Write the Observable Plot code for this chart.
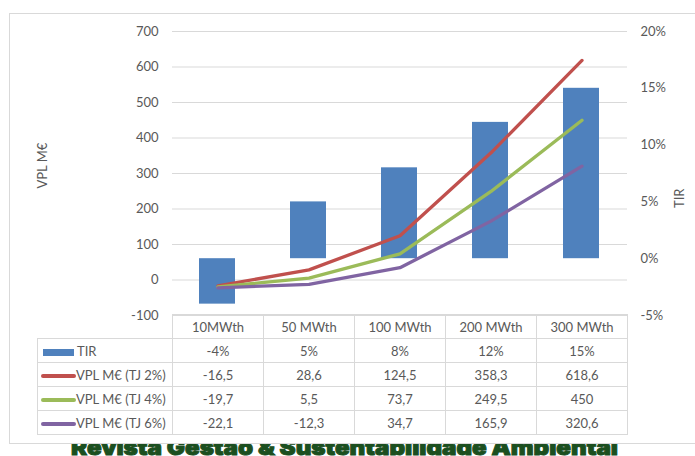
<!DOCTYPE html>
<html>
<head>
<meta charset="utf-8">
<script src="https://cdn.jsdelivr.net/npm/d3@7"></script>
<script src="https://cdn.jsdelivr.net/npm/@observablehq/plot@0.6"></script>
<style>
  html, body { margin: 0; padding: 0; background: #fff; }
  body { width: 695px; height: 456px; overflow: hidden; position: relative; font-family: Lato, "Liberation Sans", sans-serif; }
  #frame { position: absolute; left: 9px; top: 13px; width: 720px; height: 429px; border: 1px solid #d9d9d9; }
  #chart { position: absolute; left: 0; top: 0; }
  #table { position: absolute; left: 37px; top: 314px; border-collapse: collapse; font-size: 13px; color: #595959; }
  #table td { border: 1px solid #d9d9d9; height: 23px; padding: 0; text-align: center; width: 90px; }
  #table td.lab { width: 134px; text-align: left; white-space: nowrap; }
  #table td.blank { border: none; }
  .sw { display: inline-block; vertical-align: middle; margin: 0 2px 0 4px; }
  #source { position: absolute; left: 0; top: 444px; width: 695px; height: 12px; overflow: hidden; }
  #source div { position: absolute; left: 71px; top: -10px; white-space: nowrap; font-family: Inter, Roboto, "DejaVu Sans", sans-serif; font-weight: 900; font-size: 22px; line-height: 26px; color: #1b4f1f; -webkit-text-stroke: 1px #1b4f1f; transform-origin: 0 0; }
</style>
</head>
<body>
<div id="frame"></div>
<div id="chart"></div>
<table id="table"></table>
<div id="source"><div id="sourceText">Revista Gestão &amp; Sustentabilidade Ambiental</div></div>
<script>
// Plant capacities
const categories = ["10MWth", "50 MWth", "100 MWth", "200 MWth", "300 MWth"];
// Internal rate of return (%)
const tir = [-4, 5, 8, 12, 15];
// Net present value (M€) at discount rates of 2%, 4% and 6%
const vpl2 = [-16.5, 28.6, 124.5, 358.3, 618.6];
const vpl4 = [-19.7, 5.5, 73.7, 249.5, 450];
const vpl6 = [-22.1, -12.3, 34.7, 165.9, 320.6];
// Axis ticks
const leftTicks = [-100, 0, 100, 200, 300, 400, 500, 600, 700];
const rightTicks = [-5, 0, 5, 10, 15, 20];

const colors = { tir: "#4f81bd", v2: "#c0504d", v4: "#9bbb59", v6: "#8064a2" };

// The secondary (percentage) axis spans -5%..20% over the same height as -100..700
const yMin = -100, yMax = 700, pMin = -5, pMax = 20;
const pct = p => yMin + (p - pMin) * (yMax - yMin) / (pMax - pMin);

const rows = categories.map((c, i) => ({ cat: c, tir: tir[i], v2: vpl2[i], v4: vpl4[i], v6: vpl6[i] }));

const plot = Plot.plot({
  width: 695,
  height: 330,
  marginTop: 31,
  marginBottom: 15,
  marginLeft: 172,
  marginRight: 68,
  style: { fontFamily: "Lato, 'Liberation Sans', sans-serif", fontSize: "13px", color: "#595959", background: "transparent" },
  x: { type: "band", domain: categories, padding: 0, axis: null },
  y: { domain: [yMin, yMax] },
  marks: [
    Plot.ruleY(leftTicks, { stroke: "#d9d9d9", strokeWidth: 1 }),
    Plot.axisY(leftTicks, { anchor: "left", tickSize: 0, tickPadding: 14, tickFormat: d => String(d), label: null, fill: "#595959" }),
    Plot.axisY(rightTicks.map(pct), { anchor: "right", tickSize: 0, tickPadding: 13, tickFormat: v => Math.round((v - yMin) * (pMax - pMin) / (yMax - yMin) + pMin) + "%", label: null, fill: "#595959", textAnchor: "start" }),
    Plot.text(["VPL M€"], { frameAnchor: "left", dx: -130, dy: 15, rotate: -90, fill: "#595959", fontSize: 13 }),
    Plot.text(["TIR"], { frameAnchor: "right", dx: 52, dy: 15, rotate: -90, fill: "#595959", fontSize: 13 }),
    Plot.barY(rows, { x: "cat", y1: () => pct(0), y2: d => pct(d.tir), fill: colors.tir, insetLeft: 27, insetRight: 28 }),
    Plot.line(rows, { x: "cat", y: "v2", stroke: colors.v2, strokeWidth: 3.3, strokeLinejoin: "round", strokeLinecap: "round" }),
    Plot.line(rows, { x: "cat", y: "v4", stroke: colors.v4, strokeWidth: 3.3, strokeLinejoin: "round", strokeLinecap: "round" }),
    Plot.line(rows, { x: "cat", y: "v6", stroke: colors.v6, strokeWidth: 3.3, strokeLinejoin: "round", strokeLinecap: "round" })
  ]
});
document.getElementById("chart").appendChild(plot);

// Data table under the chart
const fmt = v => String(v).replace(".", ",");
const table = document.getElementById("table");
const head = table.insertRow();
const blank = head.insertCell(); blank.className = "lab blank";
categories.forEach(c => { head.insertCell().textContent = c; });

const series = [
  { name: "TIR", key: "tir", color: colors.tir, bar: true, f: v => v + "%" },
  { name: "VPL M€ (TJ 2%)", key: "v2", color: colors.v2, f: fmt },
  { name: "VPL M€ (TJ 4%)", key: "v4", color: colors.v4, f: fmt },
  { name: "VPL M€ (TJ 6%)", key: "v6", color: colors.v6, f: fmt }
];
series.forEach(s => {
  const tr = table.insertRow();
  const lab = tr.insertCell(); lab.className = "lab";
  const sw = document.createElement("span");
  sw.className = "sw";
  if (s.bar) {
    sw.style.cssText = `width:31px;height:7px;background:${s.color};margin-left:5px;margin-right:3px;`;
  } else {
    sw.style.cssText = `width:35px;height:4px;border-radius:2px;background:${s.color};margin-left:3px;margin-right:0;`;
  }
  lab.appendChild(sw);
  lab.appendChild(document.createTextNode(s.name));
  rows.forEach(r => { tr.insertCell().textContent = s.f(r[s.key]); });
});

// Journal banner: stretch to its printed width
const banner = document.getElementById("sourceText");
const w = banner.getBoundingClientRect().width;
banner.style.transform = `scaleX(${547 / w})`;
</script>
</body>
</html>
